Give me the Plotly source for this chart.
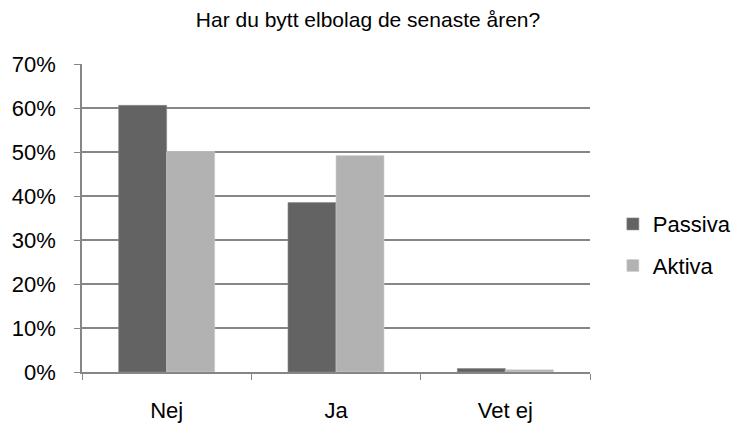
import plotly.graph_objects as go

categories = ["Nej", "Ja", "Vet ej"]
passiva = [0.606, 0.385, 0.008]
aktiva = [0.501, 0.492, 0.005]
series_names = ["Passiva", "Aktiva"]
title = "Har du bytt elbolag de senaste åren?"

FONT = "Liberation Sans, Arial, sans-serif"

fig = go.Figure()
fig.add_trace(go.Bar(x=categories, y=passiva, name=series_names[0], legendgroup="a",
                     marker=dict(color="#636363", line=dict(color="#8a8a8a", width=0.6))))
fig.add_trace(go.Bar(x=categories, y=aktiva, name=series_names[1], legendgroup="b",
                     marker=dict(color="#b2b2b2", line=dict(color="#d0d0d0", width=0.6))))

fig.update_layout(
    width=736, height=426,
    margin=dict(l=82, r=146, t=64, b=54, autoexpand=False),
    paper_bgcolor="white", plot_bgcolor="white",
    font=dict(family=FONT, size=22, color="#000000"),
    title=dict(text=title, x=0.5, xanchor="center", y=0.953, yanchor="middle",
               font=dict(size=21, family=FONT, color="#000000")),
    barmode="group", bargap=0.433, bargroupgap=0,
    showlegend=True,
    legend=dict(x=1.045, xanchor="left", y=0.412, yanchor="middle",
                font=dict(size=22, family=FONT), tracegroupgap=10,
                itemwidth=30, bgcolor="rgba(0,0,0,0)"),
    xaxis=dict(showline=True, linecolor="#868686", linewidth=1.5, ticks="outside",
               tickson="boundaries", ticklen=6, tickcolor="#868686", tickwidth=1,
               showgrid=False, tickfont=dict(size=22), ticklabelstandoff=18,
               automargin=False),
    yaxis=dict(range=[0, 0.7], dtick=0.1, tickformat=".0%", showline=True,
               linecolor="#868686", linewidth=1.5, ticks="outside", ticklen=6,
               tickcolor="#868686", showgrid=True, gridcolor="#868686", gridwidth=1.5,
               zeroline=False, tickfont=dict(size=22), ticklabelstandoff=14,
               automargin=False),
)

fig.write_html("out.html")
